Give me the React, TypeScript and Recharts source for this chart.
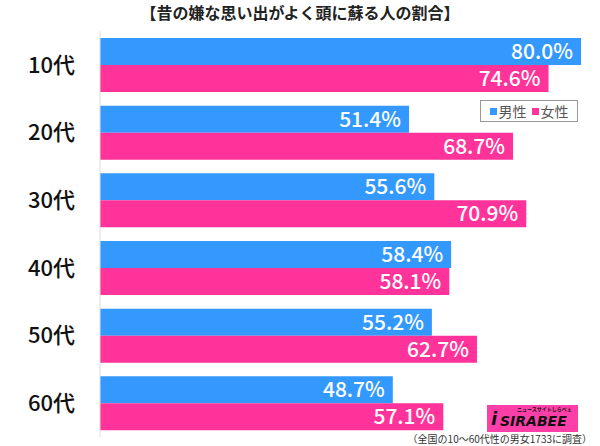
import { BarChart, Bar, XAxis, YAxis, LabelList } from 'recharts';

const ages = ['10代', '20代', '30代', '40代', '50代', '60代'];
const male = [80.0, 51.4, 55.6, 58.4, 55.2, 48.7];
const female = [74.6, 68.7, 70.9, 58.1, 62.7, 57.1];

const title = '【昔の嫌な思い出がよく頭に蘇る人の割合】';
const note = '（全国の10〜60代性の男女1733に調査）';

const BLUE = '#3399ff';
const PINK = '#ff3399';
const FONT = '"Noto Sans CJK JP", "Noto Sans", sans-serif';

export default function App() {
  const data = ages.map((age, i) => ({ age, male: male[i], female: female[i] }));
  const fmt = (v: number) => `${v.toFixed(1)}%`;

  return (
    <div style={{ position: 'absolute', left: 0, top: 0, width: 600, height: 446, background: '#fff', fontFamily: FONT }}>
      <div style={{ position: 'absolute', top: 0, left: 0, width: 600, textAlign: 'center', fontSize: 16, fontWeight: 700, color: '#222' }}>
        {title}
      </div>
      <BarChart width={600} height={446} data={data} layout="vertical"
        margin={{ top: 31, right: 19, bottom: 9, left: 0 }} barGap={0}>
        <XAxis type="number" domain={[0, 80]} hide />
        <YAxis type="category" dataKey="age" width={100} tickLine={false}
          axisLine={{ stroke: '#ddd' }} tickMargin={19}
          tick={{ fill: '#111', fontSize: 22, fontWeight: 500, fontFamily: FONT }} />
        <Bar dataKey="male" fill={BLUE} barSize={27} isAnimationActive={false}>
          <LabelList dataKey="male" position="insideRight" offset={8} formatter={fmt}
            fill="#fff" fontSize={21} fontWeight={500} fontFamily={FONT} />
        </Bar>
        <Bar dataKey="female" fill={PINK} barSize={27} isAnimationActive={false}>
          <LabelList dataKey="female" position="insideRight" offset={8} formatter={fmt}
            fill="#fff" fontSize={21} fontWeight={500} fontFamily={FONT} />
        </Bar>
      </BarChart>
      <div style={{ position: 'absolute', left: 480, top: 100, width: 98, height: 22, border: '1px solid #999', background: '#fff',
        display: 'flex', alignItems: 'center', justifyContent: 'center', fontSize: 14, color: '#555', boxSizing: 'border-box' }}>
        <span style={{ display: 'inline-block', width: 7, height: 7, background: BLUE, marginRight: 2 }} />
        <span style={{ marginRight: 5 }}>男性</span>
        <span style={{ display: 'inline-block', width: 7, height: 7, background: PINK, marginRight: 2 }} />
        <span>女性</span>
      </div>
      <div style={{ position: 'absolute', left: 487, top: 405, width: 91, height: 27, background: '#ff3fa8' }}>
        <div style={{ position: 'absolute', left: 30, top: 0, fontSize: 5, fontWeight: 700, color: '#111', whiteSpace: 'nowrap', lineHeight: '7px' }}>ニュースサイトしらべぇ</div>
        <div style={{ position: 'absolute', left: 4, top: 4, fontSize: 18, fontWeight: 900, fontStyle: 'italic', color: '#111', lineHeight: '20px', fontFamily: '"DejaVu Sans", sans-serif' }}>i</div>
        <div style={{ position: 'absolute', left: 13, top: 8, fontSize: 14, fontWeight: 900, fontStyle: 'italic', color: '#111', lineHeight: '16px', fontFamily: '"DejaVu Sans", sans-serif', whiteSpace: 'nowrap' }}>SIRABEE</div>
      </div>
      <div style={{ position: 'absolute', right: 8, top: 433, fontSize: 10, color: '#333', whiteSpace: 'nowrap', lineHeight: '12px' }}>{note}</div>
    </div>
  );
}
